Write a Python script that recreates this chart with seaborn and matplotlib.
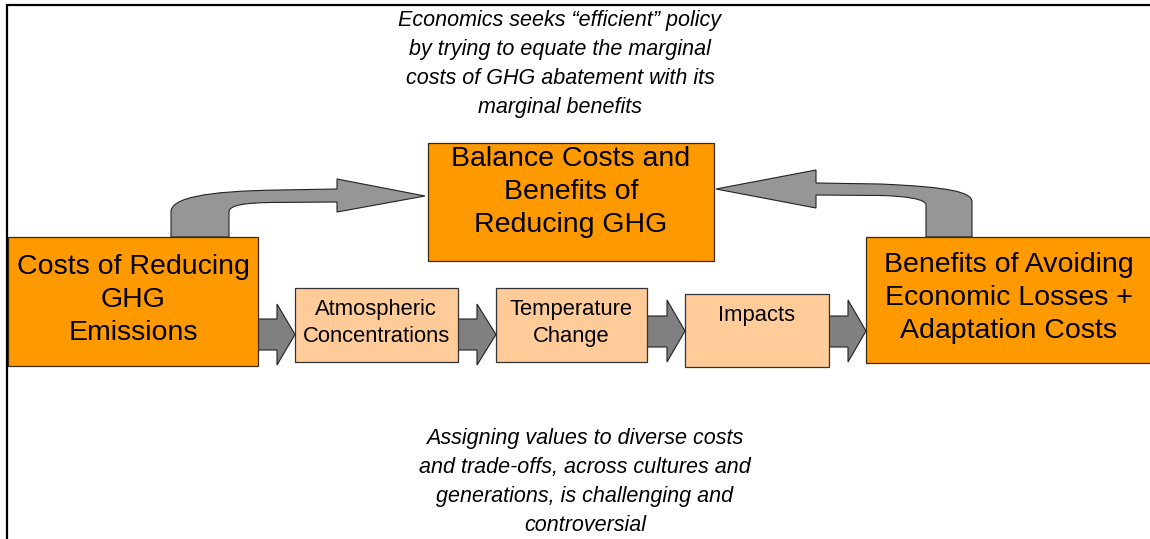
import numpy as np
import matplotlib
matplotlib.use("Agg")
import matplotlib.pyplot as plt
import seaborn as sns
from matplotlib.patches import Rectangle, Polygon, PathPatch
from matplotlib.path import Path

sns.set_theme(style="white")
plt.rcParams["font.family"] = ["Liberation Sans", "DejaVu Sans"]

# ================= Diagram content =================
big_labels = ["Costs of Reducing\nGHG\nEmissions",
              "Balance Costs and\nBenefits of\nReducing GHG",
              "Benefits of Avoiding\nEconomic Losses +\nAdaptation Costs"]
chain_labels = ["Atmospheric\nConcentrations", "Temperature\nChange", "Impacts"]
top_note = ("Economics seeks \u201cefficient\u201d policy\nby trying to equate the marginal\n"
            "costs of GHG abatement with its\nmarginal benefits")
bottom_note = ("Assigning values to diverse costs\nand trade-offs, across cultures and\n"
               "generations, is challenging and\ncontroversial")

# box geometry in pixel space (x0, y0, x1, y1) and text centre
big_boxes = [(8, 237, 258, 366), (428, 143, 714, 261), (866, 237, 1156, 363)]
big_text_xy = [(133, 300), (571, 192), (1009, 298)]
chain_boxes = [(295, 288, 458, 362), (496, 288, 647, 362), (685, 294, 829, 367)]
chain_text_xy = [(376, 323), (571, 323), (757, 315)]

# straight block arrows: (start, head base, tip, shaft y0, shaft y1, head y0, head y1)
block_arrows = [(250, 277, 295, 319, 350, 304, 365),
                (455, 477, 496, 319, 350, 304, 365),
                (645, 667, 685, 316, 347, 300, 362),
                (826, 848, 866, 316, 347, 300, 362)]

ORANGE = "#FF9900"
PEACH = "#FFCC99"
EDGE = "#3a2a10"


def block_arrow(ax, a):
    x0, xh, xt, s0, s1, h0, h1 = a
    pts = [(x0, s0), (xh, s0), (xh, h0), (xt, (h0 + h1) / 2), (xh, h1), (xh, s1), (x0, s1)]
    ax.add_patch(Polygon(pts, closed=True, facecolor="#808080",
                         edgecolor="#222222", lw=0.8, zorder=1))


def bent_arrow_right(ax):
    verts = [(171, 237), (171, 212),
             (171, 198), (205, 191), (280, 190),
             (337, 189), (337, 179), (425, 196), (337, 212), (337, 202),
             (270, 202.5),
             (245, 203), (229, 205), (229, 212),
             (229, 237), (171, 237)]
    codes = [Path.MOVETO, Path.LINETO,
             Path.CURVE4, Path.CURVE4, Path.CURVE4,
             Path.LINETO, Path.LINETO, Path.LINETO, Path.LINETO, Path.LINETO,
             Path.LINETO,
             Path.CURVE4, Path.CURVE4, Path.CURVE4,
             Path.LINETO, Path.CLOSEPOLY]
    ax.add_patch(PathPatch(Path(verts, codes), facecolor="#969696",
                           edgecolor="#222222", lw=0.8, zorder=1))


def bent_arrow_left(ax):
    verts = [(926, 237), (926, 205),
             (926, 199), (905, 196), (880, 195.5),
             (816, 195), (816, 208), (716, 189), (816, 170), (816, 183),
             (880, 184),
             (950, 187), (972, 192), (972, 202),
             (972, 237), (926, 237)]
    codes = [Path.MOVETO, Path.LINETO,
             Path.CURVE4, Path.CURVE4, Path.CURVE4,
             Path.LINETO, Path.LINETO, Path.LINETO, Path.LINETO, Path.LINETO,
             Path.LINETO,
             Path.CURVE4, Path.CURVE4, Path.CURVE4,
             Path.LINETO, Path.CLOSEPOLY]
    ax.add_patch(PathPatch(Path(verts, codes), facecolor="#969696",
                           edgecolor="#222222", lw=0.8, zorder=1))


fig = plt.figure(figsize=(11.5, 5.39), dpi=100)
ax = fig.add_axes([0, 0, 1, 1])
ax.set_xlim(0, 1150)
ax.set_ylim(539, 0)
ax.axis("off")

# outer frame (top and left only)
ax.plot([7, 7, 1150], [539, 5, 5], color="black", lw=1.6, solid_capstyle="butt",
        solid_joinstyle="miter", zorder=5)

for a in block_arrows:
    block_arrow(ax, a)
bent_arrow_right(ax)
bent_arrow_left(ax)

for (x0, y0, x1, y1), lab, (tx, ty) in zip(big_boxes, big_labels, big_text_xy):
    ax.add_patch(Rectangle((x0, y0), x1 - x0, y1 - y0, facecolor=ORANGE,
                           edgecolor=EDGE, lw=0.9, zorder=2))
    ax.text(tx, ty, lab, ha="center", va="center", multialignment="center",
            fontsize=20.5, linespacing=1.36, color="black", zorder=3)

for (x0, y0, x1, y1), lab, (tx, ty) in zip(chain_boxes, chain_labels, chain_text_xy):
    ax.add_patch(Rectangle((x0, y0), x1 - x0, y1 - y0, facecolor=PEACH,
                           edgecolor="#333333", lw=0.9, zorder=2))
    ax.text(tx, ty, lab, ha="center", va="center", multialignment="center",
            fontsize=15.8, linespacing=1.4, color="black", zorder=3)

ax.text(560, 64, top_note, ha="center", va="center", multialignment="center",
        fontsize=15.5, style="italic", linespacing=1.52, color="black")
ax.text(585, 482, bottom_note, ha="center", va="center", multialignment="center",
        fontsize=15.5, style="italic", linespacing=1.5, color="black")

fig.savefig("out.png", dpi=100)
plt.close(fig)
